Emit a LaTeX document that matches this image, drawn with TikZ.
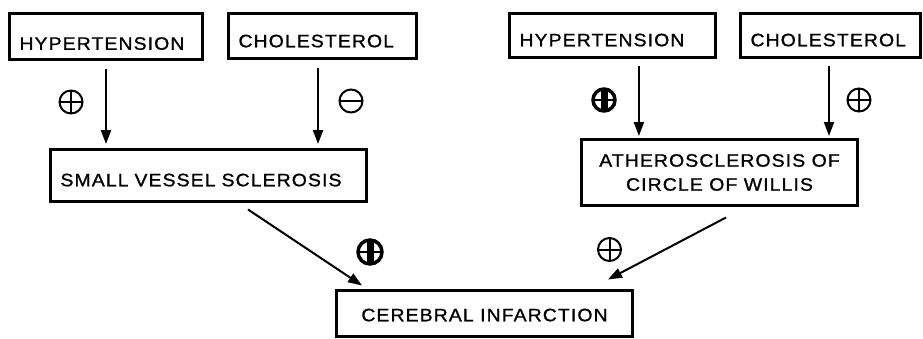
\documentclass[tikz,border=0pt]{standalone}
\usepackage{fontspec}
\setmainfont{Liberation Sans}[LetterSpace=6.0, FakeStretch=1.08, FakeBold=1.0]
\usetikzlibrary{arrows.meta}
\tikzset{
  box/.style={draw, line width=3bp, inner xsep=10bp, inner ysep=0pt,
    font=\fontsize{18bp}{24bp}\selectfont},
  lbox/.style={box, align=left, text width=#1},
  tdown/.style={text height=#1, text depth=0pt},
  arr/.style={line width=2bp, -{Triangle[length=14bp,width=10bp]}},
  sym/.style={circle, draw, line width=2bp, minimum size=23bp, inner sep=0pt},
  plussym/.style={sym, path picture={
      \draw[line width=2bp] (path picture bounding box.north) -- (path picture bounding box.south);
      \draw[line width=2bp] (path picture bounding box.west) -- (path picture bounding box.east);}},
  minussym/.style={sym, path picture={
      \draw[line width=2bp] (path picture bounding box.west) -- (path picture bounding box.east);}},
  heavysym/.style={sym, line width=3.5bp, minimum size=22bp, path picture={
      \draw[line width=7bp] (path picture bounding box.north) -- (path picture bounding box.south);
      \draw[line width=2.5bp] (path picture bounding box.west) -- (path picture bounding box.east);}},
}
\begin{document}
\begin{tikzpicture}[x=1bp, y=-1bp]
\useasboundingbox (0,0) rectangle (923,338);

\node[lbox=173bp, minimum width=193bp, minimum height=46bp, tdown=26.5bp] (h1) at (106,36.5) {HYPERTENSION};
\node[lbox=168bp, minimum width=188bp, minimum height=45bp, tdown=22.5bp] (c1) at (322.5,36) {CHOLESTEROL};
\node[lbox=186bp, minimum width=206bp, minimum height=44bp, tdown=21.5bp] (h2) at (612.5,35.5) {HYPERTENSION};
\node[lbox=160bp, minimum width=180bp, minimum height=44bp, tdown=21.5bp] (c2) at (830.5,35.5) {CHOLESTEROL};

\node[lbox=296bp, minimum width=316bp, minimum height=52bp, tdown=21.5bp] (svs) at (208.5,175.5) {SMALL VESSEL SCLEROSIS};
\node[box, align=center, minimum width=276bp, minimum height=66bp] (ath) at (719.5,172.5) {ATHEROSCLEROSIS OF\\CIRCLE OF WILLIS};
\node[box, minimum width=296bp, minimum height=46bp, tdown=15.5bp] (ci) at (484.5,313.5) {CEREBRAL INFARCTION};

\draw[arr, shorten <=8bp, shorten >=4bp] (h1.south) -- (h1.south |- svs.north);
\draw[arr, shorten <=8bp, shorten >=4bp] ([xshift=-4.5]c1.south) -- ([xshift=-4.5]c1.south |- svs.north);
\draw[arr, shorten <=7bp, shorten >=2bp] ([xshift=26.5]h2.south) -- ([xshift=26.5]h2.south |- ath.north);
\draw[arr, shorten <=7bp, shorten >=2bp] ([xshift=-1.5]c2.south) -- ([xshift=-1.5]c2.south |- ath.north);

\draw[arr] ([shift={(39.5,6.5)}]svs.south) -- ([shift={(-122.5,-3.5)}]ci.north);
\draw[arr] ([shift={(6.5,10.5)}]ath.south) -- ([shift={(123.5,-9.5)}]ci.north);

\node[plussym] (s1) at (71,102) {};
\node[minussym] (s2) at (351,101) {};
\node[heavysym] (s3) at (604,100) {};
\node[plussym] (s4) at (859,100) {};
\node[heavysym, minimum size=24bp] (s5) at (370,252) {};
\node[plussym] (s6) at (609.5,249.5) {};
\end{tikzpicture}
\end{document}
